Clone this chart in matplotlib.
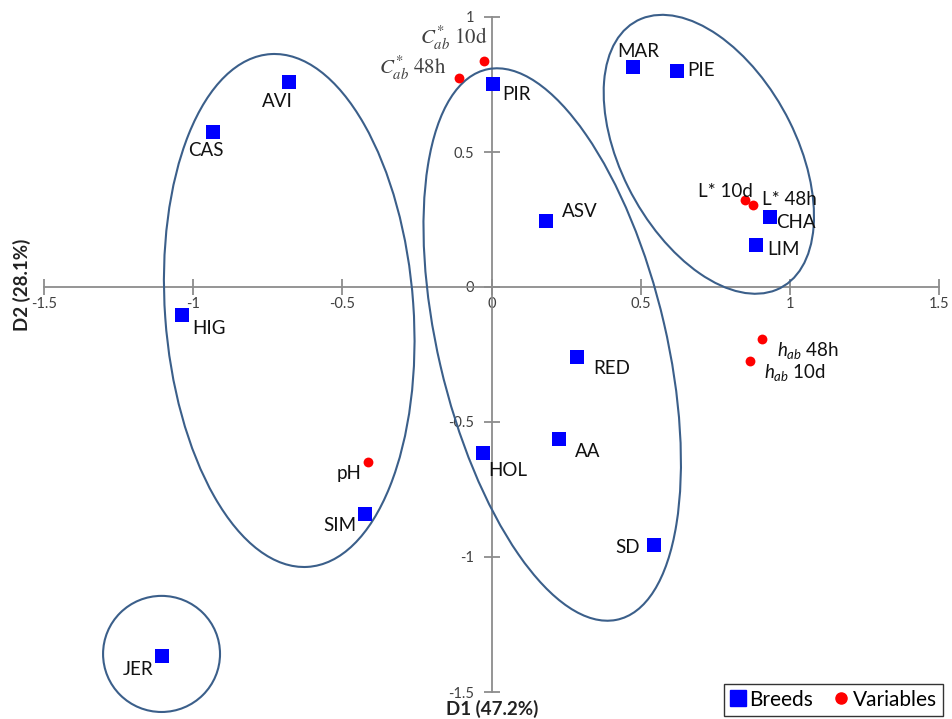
import numpy as np
import matplotlib
matplotlib.use('Agg')
import matplotlib.pyplot as plt
from matplotlib.patches import Ellipse
from matplotlib.lines import Line2D

plt.rcParams['font.family'] = ['Lato', 'DejaVu Sans']
plt.rcParams['mathtext.fontset'] = 'custom'
plt.rcParams['mathtext.it'] = 'Lato:italic'
plt.rcParams['mathtext.rm'] = 'Lato'
plt.rcParams['mathtext.bf'] = 'Lato:bold'

# breed scores on the two discriminant axes
breeds = ['AVI', 'CAS', 'HIG', 'SIM', 'JER', 'PIR', 'ASV', 'RED', 'AA', 'HOL',
          'SD', 'MAR', 'PIE', 'CHA', 'LIM']
breed_d1 = [-0.678, -0.935, -1.036, -0.423, -1.105, 0.004, 0.184, 0.285, 0.226,
            -0.027, 0.545, 0.474, 0.623, 0.935, 0.888]
breed_d2 = [0.760, 0.573, -0.105, -0.842, -1.368, 0.750, 0.243, -0.258, -0.563,
            -0.615, -0.955, 0.814, 0.800, 0.261, 0.154]

# meat quality variables
variables = [r'$C^{*}_{ab}\ \mathrm{10d}$', r'$C^{*}_{ab}\ \mathrm{48h}$',
             'L* 10d', 'L* 48h', r'$h_{ab}$ 48h', r'$h_{ab}$ 10d', 'pH']
var_d1 = [-0.024, -0.110, 0.849, 0.875, 0.908, 0.866, -0.413]
var_d2 = [0.837, 0.775, 0.321, 0.303, -0.193, -0.273, -0.649]

ticks = [-1.5, -1, -0.5, 0, 0.5, 1, 1.5]
tick_labels = ['-1.5', '-1', '-0.5', '0', '0.5', '1', '1.5']

# groups: centre, half width, half height, xy covariance term
groups = [(-0.678, -0.087, 0.42, 0.95, -0.047),
          (0.2035, -0.213, 0.4315, 1.023, -0.189),
          (0.7285, 0.4915, 0.3525, 0.5165, -0.0807),
          (-1.106, -1.359, 0.196, 0.215, 0.0)]

# label placement (pixels from point, alignment)
breed_off = {'AVI': (-12, -20, 'center'), 'CAS': (-7, -18, 'center'),
             'HIG': (10, -13, 'left'), 'SIM': (-9, -11, 'right'),
             'JER': (-8, -13, 'right'), 'PIR': (10, -10, 'left'),
             'ASV': (16, 10, 'left'), 'RED': (17, -12, 'left'),
             'AA': (16, -12, 'left'), 'HOL': (5, -17, 'left'),
             'SD': (-14, -3, 'right'), 'MAR': (5, 16, 'center'),
             'PIE': (10, 0, 'left'), 'CHA': (6, -6, 'left'),
             'LIM': (11, -4, 'left')}
var_off = [(3, 23, 'right'), (-12, 9, 'right'), (8, 9, 'right'), (9, 6, 'left'),
           (15, -11, 'left'), (14, -12, 'left'), (-7, -11, 'right')]

fig = plt.figure(figsize=(9.52, 7.19), dpi=100)
ax = fig.add_axes([44 / 952, 1 - 692 / 719, (939 - 44) / 952, (692 - 17) / 719])
ax.set_xlim(-1.5, 1.5)
ax.set_ylim(-1.5, 1)

axcol = '#8c8c8c'
for s in ['top', 'right']:
    ax.spines[s].set_visible(False)
for s in ['left', 'bottom']:
    ax.spines[s].set_position('zero')
    ax.spines[s].set_color(axcol)
    ax.spines[s].set_linewidth(1.3)

ax.set_xticks(ticks)
ax.set_xticklabels(tick_labels)
ax.set_yticks(ticks[:-1])
ax.set_yticklabels(tick_labels[:-1])
ax.tick_params(direction='inout', length=11, width=1.3, color=axcol,
               labelsize=10.5, labelcolor='#404040')
ax.tick_params(axis='x', pad=2)
ax.tick_params(axis='y', pad=7)

for cx, cy, w, h, sxy in groups:
    S = np.array([[w * w, sxy], [sxy, h * h]])
    vals, vecs = np.linalg.eigh(S)
    ang = np.degrees(np.arctan2(vecs[1, 1], vecs[0, 1]))
    e = Ellipse((cx, cy), 2 * np.sqrt(vals[1]), 2 * np.sqrt(vals[0]), angle=ang,
                fill=False, edgecolor='#3b5f8a', linewidth=1.5, zorder=3,
                clip_on=False)
    ax.add_patch(e)

ax.scatter(breed_d1, breed_d2, marker='s', s=95, color='#0000ff', zorder=4,
           linewidths=0)
ax.scatter(var_d1, var_d2, marker='o', s=50, color='#ff0000', zorder=4,
           linewidths=0)

for name, x, y in zip(breeds, breed_d1, breed_d2):
    dx, dy, ha = breed_off[name]
    ax.annotate(name, (x, y), xytext=(dx, dy), textcoords='offset pixels',
                ha=ha, va='center', fontsize=13.5, color='#111111', zorder=5)

for i, (name, x, y) in enumerate(zip(variables, var_d1, var_d2)):
    dx, dy, ha = var_off[i]
    if name.startswith(r'$C'):
        ax.annotate(name, (x, y), xytext=(dx, dy), textcoords='offset pixels',
                    ha=ha, va='center', fontsize=15, color='#404040',
                    math_fontfamily='stix', zorder=5)
    else:
        ax.annotate(name, (x, y), xytext=(dx, dy), textcoords='offset pixels',
                    ha=ha, va='center', fontsize=13.5, color='#111111', zorder=5)

fig.text(492 / 952, 1 - 709 / 719, 'D1 (47.2%)', ha='center', va='center',
         fontsize=13.5, fontweight='bold', color='#222222')
fig.text(22 / 952, 1 - 285 / 719, 'D2 (28.1%)', ha='center', va='center',
         rotation=90, fontsize=13.5, fontweight='bold', color='#222222')

handles = [Line2D([], [], marker='s', color='#0000ff', linestyle='none',
                  markersize=12, label='Breeds'),
           Line2D([], [], marker='o', color='#ff0000', linestyle='none',
                  markersize=8, label='Variables')]
leg = fig.legend(handles=handles, loc='lower right', ncol=2,
                 bbox_to_anchor=(943 / 952, 3 / 719), fontsize=15,
                 frameon=True, fancybox=False, borderaxespad=0,
                 handlelength=0.7, handletextpad=0.2, columnspacing=1.0,
                 borderpad=0.3)
leg.get_frame().set_edgecolor('black')
leg.get_frame().set_linewidth(1.0)

fig.savefig('out.png', dpi=100)
